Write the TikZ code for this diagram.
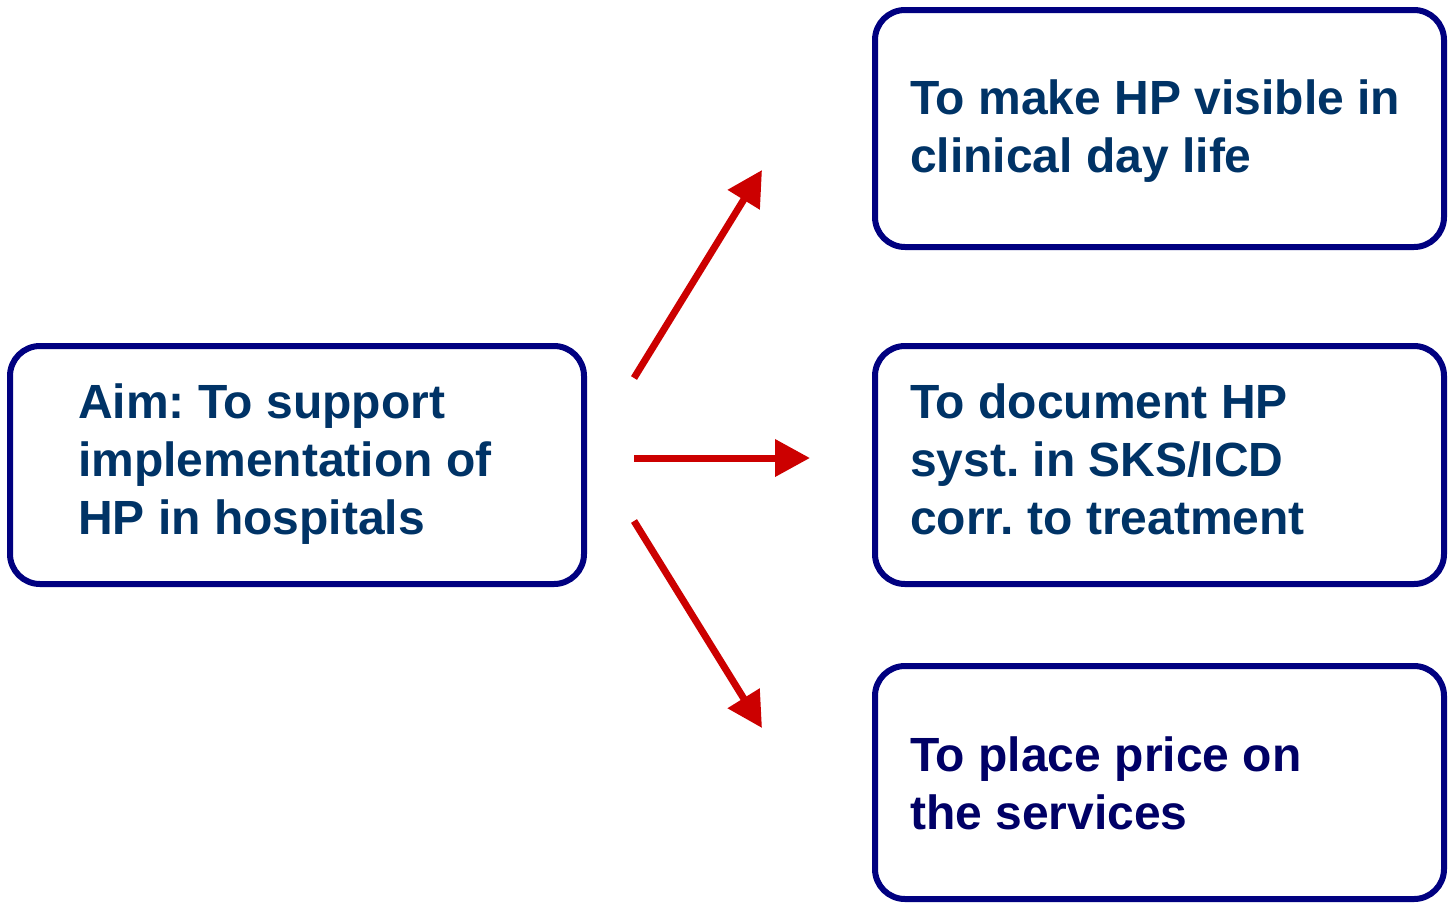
\documentclass[tikz,border=0pt]{standalone}
\usepackage{fontspec}
\setmainfont{Liberation Sans}
\usetikzlibrary{arrows.meta}
\definecolor{boxnavy}{HTML}{000080}
\definecolor{txtblue}{HTML}{003366}
\definecolor{txtnavy}{HTML}{000066}
\definecolor{arrred}{HTML}{CC0000}
\frenchspacing
\begin{document}
\begin{tikzpicture}[x=1pt,y=-1pt,
  framebox/.style={draw=boxnavy, line width=6pt, rounded corners=30pt, rectangle, inner sep=0pt},
  boxtext/.style={anchor=north west, align=left, inner sep=0pt, text=txtblue,
     font=\fontsize{48}{58}\selectfont\bfseries},
  redarrow/.style={draw=arrred, line width=7pt, -{Triangle[length=35pt,width=36pt]}}
]
\useasboundingbox (0,0) rectangle (1448,903);
% boxes
\node[framebox, minimum width=574pt, minimum height=238pt] (aim) at (297,465) {};
\node[framebox, minimum width=569pt, minimum height=237pt] (visible) at (1159.5,128.5) {};
\node[framebox, minimum width=569pt, minimum height=238pt] (document) at (1159.5,465) {};
\node[framebox, minimum width=569pt, minimum height=233pt] (price) at (1159.5,782.5) {};
% texts
\node[boxtext] (aimtxt) at (78,383.5) {Aim: To support\\implementation of\\HP in hospitals};
\node[boxtext] (vistxt) at (910,80) {To make HP visible in\\clinical day life};
\node[boxtext] (doctxt) at (910,383.5) {To document HP\\syst. in SKS/ICD\\corr. to treatment};
\node[boxtext, text=txtnavy] (pricetxt) at (910,736.5) {To place price on\\the services};
% arrow ends
\coordinate (s1) at (634,378);
\coordinate (e1) at (762,170);
\coordinate (s2) at (634,458);
\coordinate (e2) at (810,458);
\coordinate (s3) at (634,521);
\coordinate (e3) at (762,728);
\draw[redarrow] (s1) -- (e1);
\draw[redarrow] (s2) -- (e2);
\draw[redarrow] (s3) -- (e3);
\end{tikzpicture}
\end{document}
